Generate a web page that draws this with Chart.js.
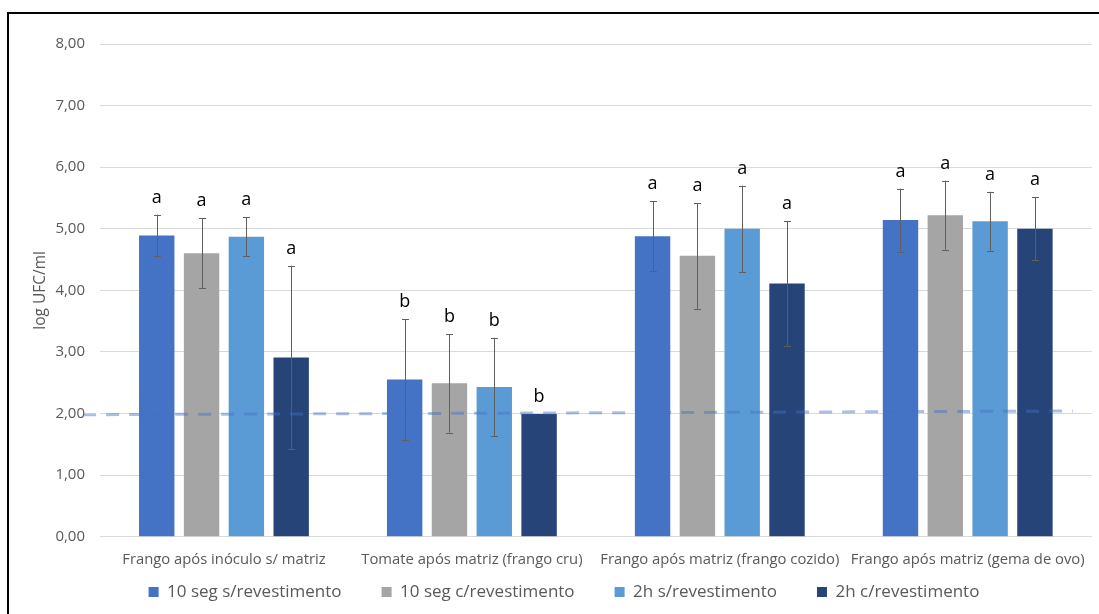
<!DOCTYPE html>
<html>
<head>
<meta charset="utf-8">
<script src="https://cdn.jsdelivr.net/npm/chart.js@4.4.1/dist/chart.umd.min.js"></script>
<style>
  html, body { margin: 0; padding: 0; background: #fff; overflow: hidden; }
  #wrap { position: relative; width: 1099px; height: 614px; }
  #frame { position: absolute; left: 7px; top: 12px; width: 1200px; height: 700px;
           border-top: 2px solid #000; border-left: 2px solid #000; pointer-events: none; }
</style>
</head>
<body>
<div id="wrap">
  <canvas id="chart" width="1099" height="614"></canvas>
  <div id="frame"></div>
</div>
<script>
// Categories and series (log UFC/ml), with standard deviations and letters
const categories = [
  'Frango após inóculo s/ matriz',
  'Tomate após matriz (frango cru)',
  'Frango após matriz (frango cozido)',
  'Frango após matriz (gema de ovo)',
];
const seriesNames = ['10 seg s/revestimento', '10 seg c/revestimento', '2h s/revestimento', '2h c/revestimento'];
const seriesColors = ['#4472C4', '#A5A5A5', '#5B9BD5', '#264478'];

const seg10Sem = [4.89, 2.55, 4.88, 5.14];
const seg10Com = [4.60, 2.49, 4.56, 5.22];
const h2Sem = [4.87, 2.43, 5.00, 5.12];
const h2Com = [2.91, 1.99, 4.11, 5.00];

const seg10SemErr = [0.34, 0.98, 0.57, 0.51];
const seg10ComErr = [0.57, 0.80, 0.86, 0.56];
const h2SemErr = [0.32, 0.80, 0.70, 0.48];
const h2ComErr = [1.49, 0, 1.01, 0.51];

const groupLetters = ['a', 'b', 'a', 'a'];

// Dashed reference line (detection limit); x in category units (0 = first group)
const limitLine = [{ x: -0.568, y: 1.98 }, { x: 3.424, y: 2.04 }];

const yTicks = [0, 1, 2, 3, 4, 5, 6, 7, 8];

const values = [seg10Sem, seg10Com, h2Sem, h2Com];
const errors = [seg10SemErr, seg10ComErr, h2SemErr, h2ComErr];

const FONT = "'Open Sans', 'Noto Sans', sans-serif";
const LEGEND_TOP = 543.5;
const LEGEND_SHIFT = 16;

// Error bars, significance letters, axis title; legend moved up under the labels
const extrasPlugin = {
  id: 'extras',
  afterLayout(chart) {
    const lg = chart.legend;
    if (!lg) return;
    lg.top = LEGEND_TOP;
    lg.bottom = chart.height;
    lg.left += LEGEND_SHIFT;
    lg.right += LEGEND_SHIFT;
  },
  afterDatasetsDraw(chart) {
    const ctx = chart.ctx;
    const y = chart.scales.y;
    ctx.save();
    values.forEach((vals, d) => {
      const meta = chart.getDatasetMeta(d);
      if (meta.hidden) return;
      meta.data.forEach((bar, i) => {
        const v = vals[i], e = errors[d][i];
        const top = y.getPixelForValue(v + e);
        const bot = y.getPixelForValue(v - e);
        if (e > 0) {
          const cx = Math.round(bar.x) + 0.5;
          ctx.strokeStyle = '#5f5f5f';
          ctx.lineWidth = 1;
          ctx.beginPath();
          ctx.moveTo(cx, top);
          ctx.lineTo(cx, bot);
          ctx.moveTo(cx - 3.5, Math.round(top) + 0.5);
          ctx.lineTo(cx + 3.5, Math.round(top) + 0.5);
          ctx.moveTo(cx - 3.5, Math.round(bot) + 0.5);
          ctx.lineTo(cx + 3.5, Math.round(bot) + 0.5);
          ctx.stroke();
        }
        ctx.fillStyle = '#000';
        ctx.font = '18px ' + FONT;
        ctx.textAlign = 'center';
        ctx.textBaseline = 'middle';
        ctx.fillText(groupLetters[i], bar.x, top - 17);
      });
    });
    // y axis title
    ctx.translate(41, (chart.chartArea.top + chart.chartArea.bottom) / 2);
    ctx.rotate(-Math.PI / 2);
    ctx.fillStyle = '#595959';
    ctx.font = '15.5px ' + FONT;
    ctx.textAlign = 'center';
    ctx.textBaseline = 'middle';
    ctx.fillText('log UFC/ml', 0, 0);
    ctx.restore();
  }
};

const datasets = values.map((vals, d) => ({
  type: 'bar',
  label: seriesNames[d],
  data: vals,
  backgroundColor: seriesColors[d],
  borderWidth: 0,
  categoryPercentage: 0.723,
  barPercentage: 0.79,
  order: 1,
}));

datasets.push({
  type: 'line',
  label: 'limite',
  data: limitLine,
  parsing: false,
  borderColor: 'rgba(68,114,196,0.45)',
  borderWidth: 3,
  borderDash: [13, 10],
  pointRadius: 0,
  fill: false,
  clip: false,
  order: 0,
});

new Chart(document.getElementById('chart'), {
  type: 'bar',
  data: { labels: categories, datasets },
  plugins: [extrasPlugin],
  options: {
    responsive: false,
    animation: false,
    layout: { padding: { top: 44, right: 3, left: 0, bottom: 21.6 } },
    plugins: {
      tooltip: { enabled: false },
      legend: {
        position: 'bottom',
        maxHeight: 10,
        labels: {
          filter: item => item.datasetIndex < 4,
          boxWidth: 10,
          boxHeight: 10,
          padding: 40,
          color: '#595959',
          font: { family: FONT, size: 17 },
        },
      },
    },
    scales: {
      x: {
        type: 'category',
        grid: { display: false, drawTicks: false },
        border: { display: false },
        ticks: { color: '#595959', font: { family: FONT, size: 14.8 }, padding: 14, maxRotation: 0, autoSkip: false },
      },
      y: {
        min: 0,
        max: 8,
        afterBuildTicks: s => { s.ticks = yTicks.map(v => ({ value: v })); },
        afterFit: s => { s.width = 100; },
        grid: { color: '#D9D9D9', drawTicks: false },
        border: { display: false },
        ticks: {
          color: '#595959',
          font: { family: FONT, size: 15 },
          padding: 15,
          callback: v => v.toFixed(2).replace('.', ','),
        },
      },
    },
  },
});
</script>
</body>
</html>
